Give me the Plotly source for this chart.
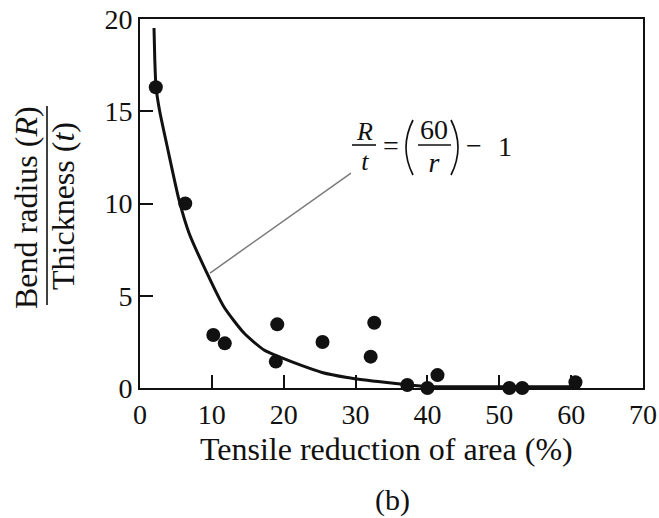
import plotly.graph_objects as go

# ---- data ----
reduction_of_area = [2.2, 6.3, 10.2, 11.8, 19.1, 18.9, 25.4, 32.6, 32.1, 37.2, 40.0, 41.4, 51.4, 53.2, 60.6]
bend_ratio = [16.3, 10.0, 2.87, 2.42, 3.45, 1.43, 2.49, 3.54, 1.70, 0.16, 0.0, 0.70, 0.0, 0.0, 0.31]

fit_x = [1.95, 2.06, 2.23, 2.71, 3.83, 5.43, 6.82, 9.32, 11.69, 14.47, 17.26, 19.76,
         22.27, 25.33, 28.81, 33.12, 36.88, 40.08, 50.0, 60.6]
fit_y = [19.51, 17.78, 16.31, 15.07, 13.01, 10.19, 8.40, 6.23, 4.39, 2.98, 2.06, 1.63,
         1.25, 0.84, 0.57, 0.35, 0.19, 0.08, 0.07, 0.07]

x_ticks = [0, 10, 20, 30, 40, 50, 60, 70]
y_ticks = [0, 5, 10, 15, 20]

# leader line from the curve to the equation (data units)
leader_x = [9.74, 29.36]
leader_y = [6.23, 11.65]

x_title = "Tensile reduction of area (%)"
y_title_num = "Bend radius (<i>R</i>)"
y_title_den = "Thickness (<i>t</i>)"
panel_label = "(b)"

FONT = "Liberation Serif, Times New Roman, serif"
INK = "#111111"

W, H = 659, 518
L, R, T, B = 140, 16, 19, 130
PW, PH = W - L - R, H - T - B


def px(x):
    return (x - L) / PW


def py(y):
    return (H - B - y) / PH


def ann(text, x, y, size, angle=0):
    return dict(text=text, x=px(x), y=py(y), xref="paper", yref="paper",
                xanchor="center", yanchor="middle", showarrow=False,
                textangle=angle, font=dict(family=FONT, size=size, color=INK))


def hline(x0, x1, y, width=1.6):
    return dict(type="line", xref="paper", yref="paper",
                x0=px(x0), x1=px(x1), y0=py(y), y1=py(y),
                line=dict(color=INK, width=width))


def vline(x, y0, y1, width=1.6):
    return dict(type="line", xref="paper", yref="paper",
                x0=px(x), x1=px(x), y0=py(y0), y1=py(y1),
                line=dict(color=INK, width=width))


def paren(xe, xc, y0, y1):
    return dict(type="path", xref="paper", yref="paper",
                path=f"M {px(xe)},{py(y0)} Q {px(xc)},{py((y0 + y1) / 2)} {px(xe)},{py(y1)}",
                line=dict(color=INK, width=1.7))


def big(s, size=28):
    return f"<span style='font-size:{size}px'>{s}</span>"


fig = go.Figure()

fig.add_trace(go.Scatter(
    x=fit_x, y=fit_y, mode="lines",
    line=dict(color=INK, width=3, shape="spline", smoothing=0.6),
    hoverinfo="skip", showlegend=False, cliponaxis=False))

fig.add_trace(go.Scatter(
    x=leader_x, y=leader_y, mode="lines",
    line=dict(color="#7a7a7a", width=1.5),
    hoverinfo="skip", showlegend=False))

fig.add_trace(go.Scatter(
    x=reduction_of_area, y=bend_ratio, mode="markers",
    marker=dict(color=INK, size=14, line=dict(width=0)),
    showlegend=False, cliponaxis=False))

axis_common = dict(
    showline=True, linecolor=INK, linewidth=2, mirror=True,
    ticks="inside", ticklen=13, tickwidth=2, tickcolor=INK,
    showgrid=False, zeroline=False, automargin=False,
    tickfont=dict(family=FONT, size=28, color=INK),
)

fig.update_xaxes(range=[0, 70], tickvals=x_ticks, **axis_common)
fig.update_yaxes(range=[0, 20], tickvals=y_ticks, **axis_common)

annotations = [
    ann(x_title, 386, 449, 32),
    ann(panel_label, 392, 500, 30),
    ann(y_title_num, 26, 208, 32, angle=-90),
    ann(y_title_den, 63, 206, 32, angle=-90),
    # equation R/t = (60/r) - 1
    ann(big("<i>R</i>", 26) + "<br>" + big("<i>t</i>", 26), 364, 146, 23),
    ann("=", 391, 145, 28),
    ann(big("60") + "<br>" + big("<i>r</i>"), 434, 146, 25),
    ann("\u2212", 474, 145, 28),
    ann("1", 505, 146, 28),
]

shapes = [
    vline(47, 106, 305),
    hline(352, 376, 145),
    hline(418, 451, 145),
    paren(413, 399, 120, 175),
    paren(451, 465, 120, 175),
]

fig.update_layout(
    width=W, height=H, autosize=False,
    margin=dict(l=L, r=R, t=T, b=B, autoexpand=False),
    paper_bgcolor="white", plot_bgcolor="white",
    font=dict(family=FONT, color=INK),
    annotations=annotations, shapes=shapes,
    showlegend=False,
)

fig.write_html("out.html")
